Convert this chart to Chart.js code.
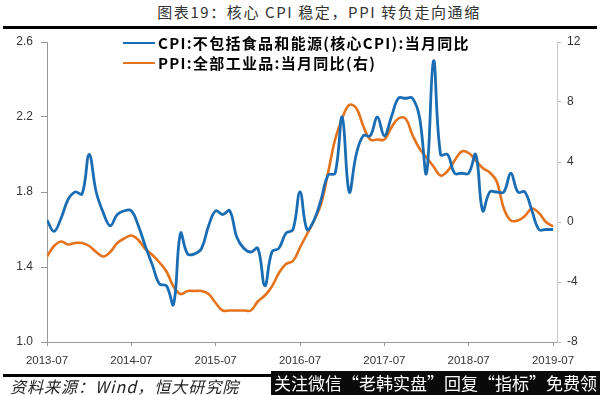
<!DOCTYPE html>
<html><head><meta charset="utf-8">
<script src="https://cdn.jsdelivr.net/npm/chart.js@4.4.1/dist/chart.umd.min.js"></script>
<style>
html,body{margin:0;padding:0;background:#fff;width:600px;height:395px;overflow:hidden;position:relative;font-family:"Noto Sans CJK SC",sans-serif}
#c{position:absolute;left:0;top:0}
#title{position:absolute;left:0;width:638px;top:2px;text-align:center;font-size:15px;letter-spacing:1.6px;color:#333;line-height:20px;white-space:nowrap}
#rule1{position:absolute;left:3px;width:594px;top:26px;height:3px;background:#000}
#legend{position:absolute;left:123px;top:33px;font-size:15px;font-weight:bold;letter-spacing:1.3px;color:#000;line-height:20px}
#legend .row{display:flex;align-items:center;height:20px;white-space:nowrap}
#legend .sw{display:inline-block;width:32px;height:2px;margin-right:3px}
#rule2{position:absolute;left:3px;width:270px;top:374px;height:3px;background:#000}
#source{position:absolute;left:10px;top:376px;font-size:16px;font-style:italic;color:#222;line-height:20px;white-space:nowrap;letter-spacing:1px}
#wm{position:absolute;left:271px;top:371px;width:329px;height:24px;background:#0a0a0a;color:#fff;font-size:17px;line-height:24px;text-align:center;white-space:nowrap}
</style></head><body>
<div id="title">图表19：核心 CPI 稳定，PPI 转负走向通缩</div>
<div id="rule1"></div>
<canvas id="c" width="600" height="395"></canvas>
<div id="legend"></div>
<div id="rule2"></div>
<div id="source">资料来源：Wind，恒大研究院</div>
<div id="wm">关注微信“老韩实盘”回复“指标”免费领</div>
<script>
// monthly from 2013-07 to 2019-07
const startYear = 2013, startMonth = 7, nMonths = 73;
const months = [];
for (let i = 0; i < nMonths; i++) {
  const m = startMonth - 1 + i;
  months.push((startYear + Math.floor(m / 12)) + '-' + String(m % 12 + 1).padStart(2, '0'));
}
const seriesNames = ['CPI:不包括食品和能源(核心CPI):当月同比', 'PPI:全部工业品:当月同比(右)'];
const coreCPI = [
  1.65, 1.59, 1.66, 1.76, 1.80, 1.79,
  2.00, 1.80, 1.69, 1.62, 1.68, 1.70, 1.70, 1.62, 1.51, 1.41, 1.31, 1.30,
  1.20, 1.58, 1.47, 1.47, 1.50, 1.62, 1.70, 1.68, 1.70, 1.56, 1.50, 1.48,
  1.50, 1.30, 1.48, 1.50, 1.58, 1.60, 1.80, 1.60, 1.65, 1.76, 1.89, 1.90,
  2.20, 1.80, 2.00, 2.10, 2.10, 2.20, 2.10, 2.20, 2.30, 2.30, 2.30, 2.20,
  1.90, 2.50, 2.00, 2.00, 1.90, 1.90, 1.90, 2.00, 1.70, 1.80, 1.80, 1.80,
  1.90, 1.80, 1.80, 1.70, 1.60, 1.60, 1.60
];
const ppi = [
  -2.3, -1.6, -1.3, -1.5, -1.4, -1.4,
  -1.6, -2.0, -2.3, -2.0, -1.4, -1.1, -0.9, -1.2, -1.8, -2.2, -2.7, -3.3,
  -4.3, -4.8, -4.6, -4.6, -4.6, -4.8, -5.4, -5.9, -5.9, -5.9, -5.9, -5.9,
  -5.3, -4.9, -4.3, -3.4, -2.8, -2.6, -1.7, -0.8, 0.1, 1.2, 3.3, 5.5,
  6.9, 7.8, 7.6, 6.4, 5.5, 5.5, 5.5, 6.3, 6.9, 6.9, 5.8, 4.9,
  4.3, 3.7, 3.1, 3.4, 4.1, 4.7, 4.6, 4.1, 3.6, 3.3, 2.7, 0.9,
  0.1, 0.1, 0.4, 0.9, 0.6, 0.0, -0.3
];
const xTickLabels = ['2013-07', '2014-07', '2015-07', '2016-07', '2017-07', '2018-07', '2019-07'];
const leftTicks = [1.0, 1.4, 1.8, 2.2, 2.6];
const rightTicks = [-8, -4, 0, 4, 8, 12];
const colors = ['#1a6db3', '#e4731c'];

const xTickPos = xTickLabels.map(l => months.indexOf(l));
const toXY = arr => arr.map((v, i) => ({x: i, y: v}));

document.getElementById('legend').innerHTML = seriesNames.map((n, k) =>
  '<div class="row"><span class="sw" style="background:' + colors[k] + '"></span>' + n + '</div>').join('');

const tickFont = {family: 'Liberation Sans', size: 12};
new Chart(document.getElementById('c'), {
  type: 'line',
  data: {
    datasets: [
      {label: seriesNames[0], data: toXY(coreCPI), yAxisID: 'y', borderColor: colors[0], borderWidth: 2.8, pointRadius: 0, tension: 0.4, fill: false},
      {label: seriesNames[1], data: toXY(ppi), yAxisID: 'y1', borderColor: colors[1], borderWidth: 2.6, pointRadius: 0, tension: 0.4, fill: false}
    ]
  },
  options: {
    responsive: false, animation: false,
    layout: {padding: {top: 42, left: 0, right: 0, bottom: 0}},
    plugins: {legend: {display: false}, title: {display: false}, tooltip: {enabled: false}},
    scales: {
      x: {
        type: 'linear', min: 0, max: 72 * 510 / 506,
        afterBuildTicks: s => { s.ticks = xTickPos.map(v => ({value: v})); },
        afterFit: s => { s.height = 53; },
        ticks: {callback: (v, i) => xTickLabels[i], font: {family: 'Liberation Sans', size: 11.5}, color: '#333', padding: 8, maxRotation: 0, autoSkip: false},
        grid: {drawOnChartArea: false, tickLength: 4, color: '#999'},
        border: {color: '#999'}
      },
      y: {
        position: 'left', min: 1.0, max: 2.6,
        afterBuildTicks: s => { s.ticks = leftTicks.map(v => ({value: v})); },
        afterFit: s => { s.width = 47; },
        ticks: {callback: v => v.toFixed(1), font: tickFont, color: '#333', padding: 8},
        grid: {drawOnChartArea: false, tickLength: 6, color: '#999'},
        border: {color: '#999'}
      },
      y1: {
        position: 'right', min: -8, max: 12,
        afterBuildTicks: s => { s.ticks = rightTicks.map(v => ({value: v})); },
        afterFit: s => { s.width = 43; },
        ticks: {font: tickFont, color: '#333', padding: 6},
        grid: {drawOnChartArea: false, tickLength: 4, color: '#bbb'},
        border: {color: '#ccc'}
      }
    }
  }
});
</script>
</body></html>
